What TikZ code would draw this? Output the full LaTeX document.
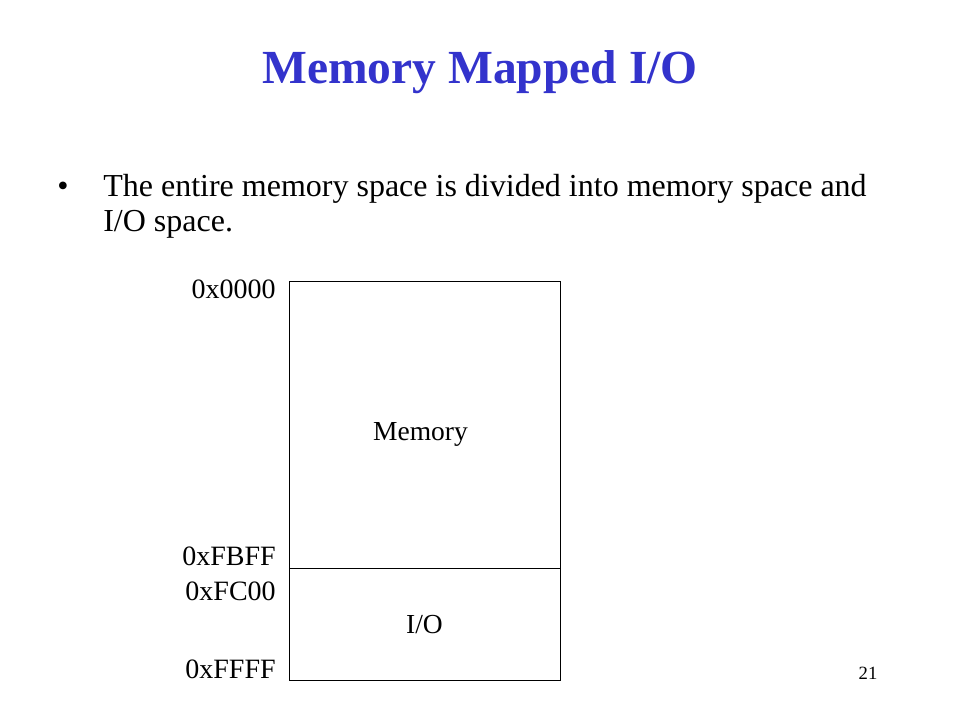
\documentclass[tikz,border=0pt]{standalone}
\usepackage{fontspec}
\setmainfont{Liberation Serif}
\usetikzlibrary{positioning}
\definecolor{titleblue}{RGB}{51,51,204}

\begin{document}
\begin{tikzpicture}[x=1pt,y=-1pt,
                    semithick]
  \tikzstyle{cell}=[draw,rectangle,minimum width=271pt,inner sep=0pt,
  font=\fontsize{27.5}{32}\selectfont]
  \tikzstyle{addr}=[anchor=east,inner sep=0pt,
  font=\fontsize{28}{32}\selectfont]
  \tikzstyle{body}=[anchor=base west,inner sep=0pt,
  font=\fontsize{32}{38}\selectfont]
  \useasboundingbox (0,0) rectangle (960,720);

  \node[font=\fontsize{47.5}{56}\selectfont\bfseries,text=titleblue,
        anchor=base] (title) at (480,83) {Memory Mapped I/O};
  \node[body] (bul) at (57,196) {\textbullet};
  \node[body] (line1) at (103,196) {The entire memory space is divided into memory space and};
  \node[body] (line2) at (103,231) {I/O space.};

  \node[cell,minimum height=287pt] (mem) at (424.5,424.5) {};
  \node[cell,minimum height=112pt,below=0pt of mem] (io) {I/O};
  \node[font=\fontsize{27.5}{32}\selectfont]
        (memlbl) at ([xshift=-4pt,yshift=-10pt]mem.center) {Memory};

  \node[addr] (a0) at (276,289) {0x0000};
  \node[addr] (a1) at (276,556) {0xFBFF};
  \node[addr] (a2) at (276,591) {0xFC00};
  \node[addr] (a3) at (276,669) {0xFFFF};

  \node[font=\fontsize{18.7}{22}\selectfont] (page) at (868,673) {21};
\end{tikzpicture}
\end{document}
